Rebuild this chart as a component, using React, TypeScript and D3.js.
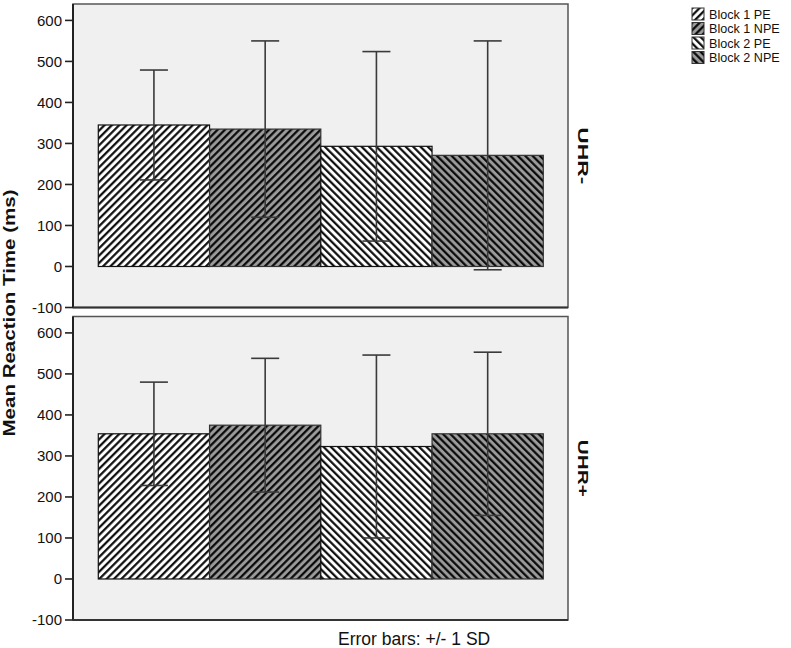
import * as d3 from "d3";

const groups = ["Block 1 PE", "Block 1 NPE", "Block 2 PE", "Block 2 NPE"];
const panelNames = ["UHR-", "UHR+"];
const meansUhrMinus = [345, 335, 293, 271];
const sdUhrMinus = [134, 215, 231, 279];
const meansUhrPlus = [354, 375, 323, 354];
const sdUhrPlus = [126, 163, 223, 199];
const yTicks = [-100, 0, 100, 200, 300, 400, 500, 600];

const W = 791;
const H = 648;
const left = 73;
const right = 568;
const panelTops = [4, 316.5];
const panelH = 303.5;

const fills = ["#ffffff", "#9a9a9a", "#ffffff", "#9a9a9a"];
const angles = [45, 45, -45, -45];

export default function App() {
  const panels = [
    { name: panelNames[0], means: meansUhrMinus, sds: sdUhrMinus },
    { name: panelNames[1], means: meansUhrPlus, sds: sdUhrPlus },
  ];

  const x = d3.scaleBand<string>().domain(groups).range([98.3, 543.3]).padding(0);
  const font = "'Liberation Sans', Arial, sans-serif";

  return (
    <svg width={W} height={H} style={{ position: "absolute", left: 0, top: 0 }} fontFamily={font}>
      <defs>
        {groups.map((g, i) => (
          <pattern
            key={g}
            id={`hatch${i}`}
            patternUnits="userSpaceOnUse"
            width={5.2}
            height={5.2}
            patternTransform={`rotate(${angles[i]})`}
          >
            <rect width={5.2} height={5.2} fill={fills[i]} />
            <line x1={1.2} y1={0} x2={1.2} y2={5.2} stroke="#000" strokeWidth={2.1} />
          </pattern>
        ))}
      </defs>
      <rect width={W} height={H} fill="#fff" />

      {panels.map((p, pi) => {
        const top = panelTops[pi];
        const bottom = top + panelH;
        const y = d3.scaleLinear().domain([-100, 640]).range([bottom, top]);
        return (
          <g key={p.name}>
            <rect x={left} y={top} width={right - left} height={panelH} fill="#f0f0f0" stroke="#555" strokeWidth={1.5} />
            {groups.map((g, i) => (
              <rect
                key={g}
                x={x(g)}
                y={y(p.means[i])}
                width={x.bandwidth()}
                height={y(0) - y(p.means[i])}
                fill={`url(#hatch${i})`}
                stroke={i % 2 ? "#333" : "#111"}
                strokeWidth={1.2}
              />
            ))}
            {groups.map((g, i) => {
              const cx = (x(g) as number) + x.bandwidth() / 2;
              const hi = y(p.means[i] + p.sds[i]);
              const lo = y(p.means[i] - p.sds[i]);
              return (
                <g key={g} stroke="#3a3a3a" strokeWidth={1.6}>
                  <line x1={cx} x2={cx} y1={hi} y2={lo} />
                  <line x1={cx - 14} x2={cx + 14} y1={hi} y2={hi} />
                  <line x1={cx - 14} x2={cx + 14} y1={lo} y2={lo} />
                </g>
              );
            })}
            <line x1={left} x2={left} y1={top} y2={bottom} stroke="#222" strokeWidth={2} />
            <line x1={left} x2={right} y1={bottom} y2={bottom} stroke="#333" strokeWidth={2} />
            {yTicks.map((t) => (
              <g key={t}>
                <line x1={65} x2={left} y1={y(t)} y2={y(t)} stroke="#222" strokeWidth={1.6} />
                <text x={62} y={y(t)} dy="0.36em" textAnchor="end" fontSize={15} fill="#111">
                  {t}
                </text>
              </g>
            ))}
            <text
              transform={`translate(578,${(top + bottom) / 2}) rotate(90)`}
              textAnchor="middle"
              fontSize={15}
              fontWeight="bold"
              fill="#111"
              textLength={57}
              lengthAdjust="spacingAndGlyphs"
            >
              {p.name}
            </text>
          </g>
        );
      })}

      <text
        transform="translate(14.5,313) rotate(-90)"
        textAnchor="middle"
        fontSize={17}
        fontWeight="bold"
        fill="#111"
        textLength={247}
        lengthAdjust="spacingAndGlyphs"
      >
        Mean Reaction Time (ms)
      </text>

      <text x={338} y={645} fontSize={17.5} fill="#111">
        Error bars:  +/- 1 SD
      </text>

      {groups.map((g, i) => {
        const cy = 14 + i * 14.5;
        return (
          <g key={g}>
            <rect x={692} y={cy - 6} width={12} height={12} fill={`url(#hatch${i})`} stroke="#333" strokeWidth={1} />
            <text x={709} y={cy} dy="0.36em" fontSize={12.6} fill="#111">
              {g}
            </text>
          </g>
        );
      })}
    </svg>
  );
}
